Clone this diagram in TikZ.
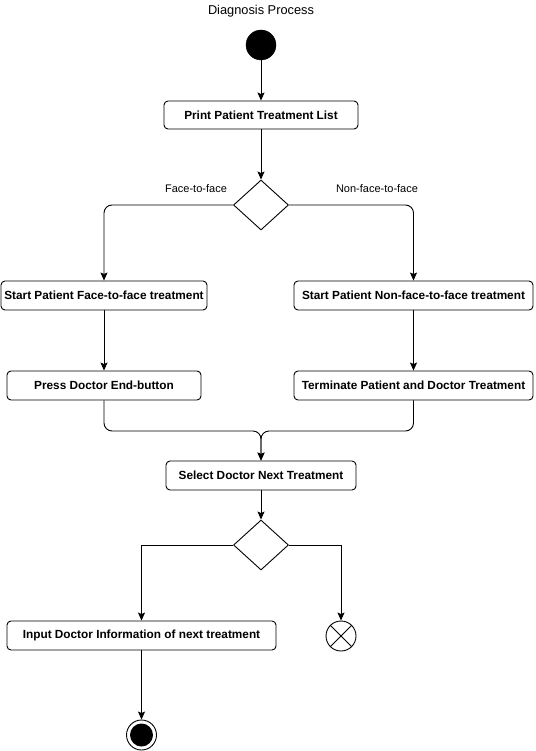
\documentclass[tikz,border=0pt]{standalone}
\usepackage{fontspec}
\setmainfont{Liberation Sans}
\usetikzlibrary{arrows.meta,shapes.geometric}
\begin{document}
\begin{tikzpicture}[x=1pt,y=-1pt,
 act/.style={draw,rounded corners=4pt,line width=0.9pt,inner sep=0pt,minimum height=29pt,font=\fontsize{11.8}{14}\selectfont\bfseries},
 dec/.style={draw,diamond,inner sep=0pt,minimum width=55pt,minimum height=50pt,line width=0.9pt},
 flow/.style={-{Stealth[length=8pt,width=7pt,inset=1.5pt]},line width=0.9pt},
 lbl/.style={font=\fontsize{11}{13}\selectfont},
 ttl/.style={font=\fontsize{12.8}{15}\selectfont}]
\fill[white] (0,0) rectangle (535,751);
\useasboundingbox (0,0) rectangle (535,751);

\node[ttl] (title) at (261,11) {Diagnosis Process};
\node[circle,fill=black,draw=black,minimum size=30pt,inner sep=0pt] (start) at (261,45) {};
\node[act,minimum width=194pt,minimum height=28pt] (print) at (261,115) {Print Patient Treatment List};
\node[dec] (d1) at (261,205) {};
\node[lbl] (lf) at (196,189) {Face-to-face};
\node[lbl] (ln) at (377,189) {Non-face-to-face};
\node[act,minimum width=206pt] (sf) at (104,295.5) {Start Patient Face-to-face treatment};
\node[act,minimum width=239pt] (sn) at (413.5,295.5) {Start Patient Non-face-to-face treatment};
\node[act,minimum width=194pt] (press) at (104,385.5) {Press Doctor End-button};
\node[act,minimum width=239pt] (term) at (413.5,385.5) {Terminate Patient and Doctor Treatment};
\coordinate (mrg) at (261,431);
\node[act,minimum width=190pt] (sel) at (261,475.5) {Select Doctor Next Treatment};
\node[dec] (d2) at (261,545) {};
\node[act,minimum width=269pt] (inp) at (141.5,635.5) {Input Doctor Information of next treatment};
\node[circle,draw=black,line width=0.9pt,minimum size=30pt,inner sep=0pt] (ff) at (341,636) {};
\draw[line width=0.9pt] (ff.north east) -- (ff.south west) (ff.north west) -- (ff.south east);
\node[circle,draw=black,line width=0.9pt,minimum size=30pt,inner sep=0pt] (end) at (141.5,735) {};
\fill[black] (end.center) circle (11.5pt);

\draw[flow] (start) -- (print);
\draw[flow] (print) -- (d1);
\draw[flow,rounded corners=8pt] (d1.west) -| (sf.north);
\draw[flow,rounded corners=8pt] (d1.east) -| (sn.north);
\draw[flow] (sf) -- (press);
\draw[flow] (sn) -- (term);
\draw[flow,rounded corners=8pt] (press.south) |- (mrg) -- (sel.north);
\draw[flow,rounded corners=8pt] (term.south) |- (mrg) -- (sel.north);
\draw[flow] (sel) -- (d2);
\draw[flow] (d2.west) -| (inp.north);
\draw[flow] (d2.east) -| (ff.north);
\draw[flow] (inp) -- (end);
\end{tikzpicture}
\end{document}
